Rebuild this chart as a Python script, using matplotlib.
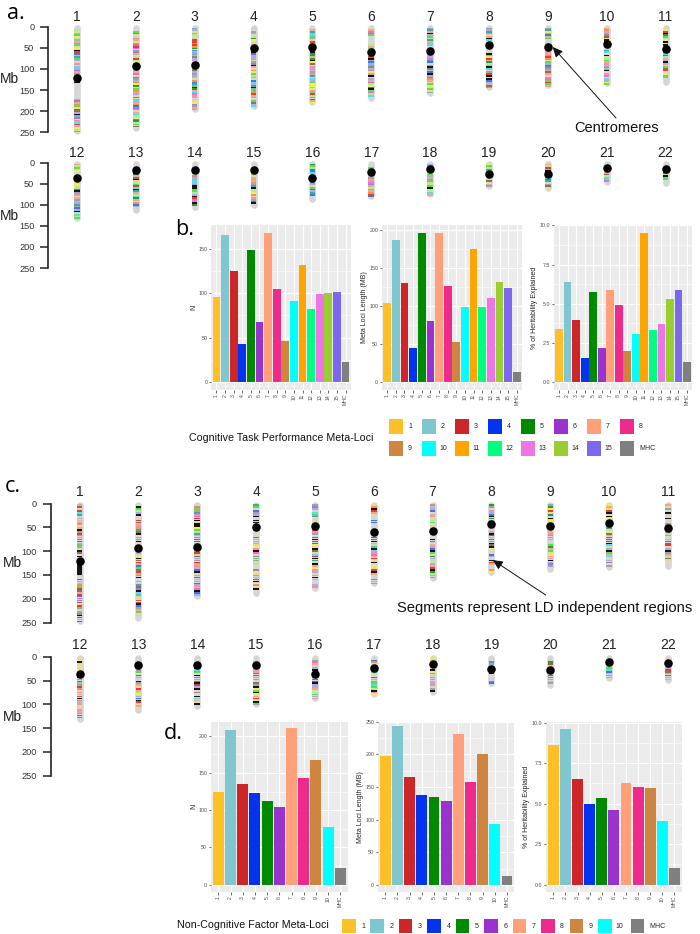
from matplotlib import pyplot as plt
from matplotlib import rcParams
from matplotlib.patches import Rectangle

rcParams['font.family'] = ['Liberation Sans', 'DejaVu Sans']

W, H = 700, 934

# chromosomes (Mb)
chrom_len = [249, 243, 198, 191, 181, 171, 159, 146, 141, 136, 135,
             134, 115, 107, 103, 90, 81, 78, 59, 63, 48, 51]
centromere = [121, 93, 91, 50, 47, 59, 58, 44, 48, 40, 52,
              36, 17, 17, 18, 36, 23, 16, 26, 27, 12, 14]
mb_ticks = [0, 50, 100, 150, 200, 250]

# one letter per 4 Mb of chromosome, '.' = no segment
band_colors = {
    'k': '#151515', 'r': '#ea3a32', 'o': '#fb9440', 'y': '#f2ee50', 'g': '#58de50',
    'G': '#2c9a2c', 'b': '#3f74ee', 'c': '#45e4ee', 'm': '#f868d8', 'p': '#a878d8',
    's': '#f2a88e', 't': '#45a4aa', 'w': '#e6d8a6', 'l': '#aeee90', 'v': '#aaaae6',
    'h': '#f48eb2', 'n': '#8e7058', 'd': '#98a4b0', 'a': '#b4dac4',
}
bands_a = [
    ".lwcgylvsmgwykrbstgvwhlcvpsdvlpgk.........vpsogyrnvkdpwhcrhylmrnsw",
    "..gtwlhsyoprmdpswlrlycwtdvsmwtdvoyGlgosvwthcsobpdwsclwtGlgn",
    "dvwhlwlrrmroGtvdcthvwsoltnvdvswobtgkGscmhvlwypdsvwpnk",
    "a.dvwlGyw.sl.bkbcvhldpkswoyglhwbcvtkdgorshlgnvc",
    ".stvcgdwrhsta.kGrsGkynwhvsdhtlcvgyysyhgrlmrsy",
    "wsmpg....wlsgcoygrkdbvmthdyhkwvsplyrkgmlcw",
    "dtskvgltscc.wp..vvmtb.oktsbkvtoswgylgwd",
    "dvtgwskcwkgsw..kgyrsGlckcwdrkwkbvsndgg",
    "dtyhbsg..cccvshsdrowgvbtdhnswvmgrgsmy",
    "sohvtrykkgsw.tc.kwlgshsdvkwhmwcvyg..",
    "wyrkGglyk.kmhrtcblsvkhlgnrwygo.",
    "slgly.....wyywlnkdhwsdcvtdbvkwclgvh",
    "....rkGsnkwlgrcktslcGsyobv",
    "....pgwdhvccdkkgglvkrmgkG",
    ".....vgwshsodtkwlyowhdnk",
    "Gglbbcv.kywdvwgnvtb",
    "..g..ktsdshmpslgsorbb",
    "vmpwglgvsdglwgkylcsw",
    "ygatgsk.lwnwsd",
    "slrgk.dvcbtwdnw",
    "...ywsnlchm.",
    "....vblkgd..",
]
bands_c = [
    "snwrctwvshowskdrmvtbvdgwkn.k.kkkkkkkklyrcsogrnsrbmpnwrdwgpkrsr",
    "wkglvk..rnshotnkyhmkyw.sbv.yknrsbgnrsmkyv.tnpkcdlwnrkbdsgwl",
    "wdogthmrkwkkygltsdnbc.kygrlnvdrshsbkwhrshbvsmkbv",
    "tgwbdvk.kk..yG.w.nshvwyhkmwpgdwl..pywghrkyowk",
    "dpv.cgt.wyoswrhdynkbrywknwcrktwksyhvwvkswlvh",
    "wokrs.w.bb..wyk.yrnksldkchmsrwk.ywrkswltcd",
    "dsvb.shllg.w.nkgwykn.shbkgwGvlwvsrkGlvm",
    "GdwhvbkGc..sw.hkrsbdknkyw.bv.krs.woyrg",
    "dGyrwG.ky.y..wshmmhwlgGsgwyshkvpd",
    "ysyrk.kyw.kctwynsnGrkcwvkgscwvpwd",
    "swd.kw.k.wdcyyhlgwsbGrwvkdslnw",
    "wykwywy..kkmbvgrowhsnkdshwwhsdnt",
    "....tkdgyrcwkdswrslyvbkrwsw",
    "....mkcgwkpvnkrvkwpwkcswk",
    "....kdhsnbcgwndkygkysrlkdn",
    "wdmswvk..kobrkvvswlgvs",
    ".bo..tkg.wGsdgcglkhy",
    "yw..hwkydlgoshvwdk",
    "..tdw.mtk..ltbswy",
    ".aGr.pk.Gnthsd.bs",
    "....lgcbsdh",
    ".....vrnobvs",
]

# цвета мета-локусов
locus_colors = ['#FFBF27', '#7FC6CE', '#CE2529', '#0433F0', '#008A00', '#9A32CD',
                '#FFA07A', '#EE2A8C', '#CD853F', '#00FFFF', '#FFA500', '#00FF7F',
                '#EE75E6', '#9ACD32', '#7B68EE', '#7F7F7F']

labels_b = [str(i) for i in range(1, 16)] + ['MHC']
n_b = [96, 165, 125, 43, 148, 68, 168, 105, 46, 91, 132, 82, 99, 100, 101, 23]
len_b = [104, 187, 130, 45, 197, 81, 197, 127, 53, 99, 176, 99, 111, 132, 124, 13]
her_b = [3.4, 6.4, 3.95, 1.55, 5.75, 2.2, 5.9, 4.9, 2.0, 3.05, 9.55, 3.35, 3.7, 5.3, 5.9, 1.3]

labels_d = [str(i) for i in range(1, 11)] + ['MHC']
colors_d = locus_colors[:10] + locus_colors[-1:]
n_d = [125, 208, 135, 123, 113, 105, 210, 143, 167, 77, 23]
len_d = [197, 243, 165, 138, 135, 129, 231, 158, 201, 94, 13]
her_d = [8.6, 9.6, 6.5, 5.0, 5.35, 4.6, 6.3, 6.0, 5.95, 3.9, 1.05]

fig = plt.figure(figsize=(W / 100, H / 100), dpi=100)


def px_axes(left, top, right, bottom):
    return fig.add_axes([left / W, 1 - bottom / H, (right - left) / W, (bottom - top) / H])


def ideogram_row(chroms, bands, band_h, x_first, x_axis, y0, y250, label_y, mb_y):
    # pad: row axes run a bit past the 0-250 Mb span
    ax = px_axes(x_axis, y0 - 8, W, y250 + 8)
    ax.patch.set_visible(False)
    scale = (y250 - y0) / 250
    step = 58.85
    ax.set_xlim((x_axis - x_first) / step, (W - x_first) / step)
    ax.set_ylim(250 + 8 / scale, -8 / scale)
    for pos, c in enumerate(chroms):
        ax.plot([pos, pos], [3, chrom_len[c] - 3], color='#d6d6d6', lw=4.8,
                solid_capstyle='round', zorder=1)
        for j, code in enumerate(bands[c][:chrom_len[c] // 4]):
            if code != '.':
                ax.bar(pos, band_h, bottom=j * 4 + 2, width=0.095, color=band_colors[code],
                       linewidth=0, zorder=2)
        ax.scatter(pos, centromere[c], s=38, c='black', linewidths=0, zorder=3, clip_on=False)
        ax.text(pos, (label_y - y0) / scale, str(c + 1), fontsize=10, color='#222222',
                ha='center', va='center', clip_on=False)
    for s in ['top', 'right', 'bottom']:
        ax.spines[s].set_visible(False)
    ax.spines['left'].set_bounds(0, 250)
    ax.spines['left'].set_linewidth(1.2)
    ax.spines['left'].set_color('#222222')
    ax.set_xticks([])
    ax.set_yticks(mb_ticks)
    ax.tick_params(axis='y', length=5.8, width=1.1, color='#222222', labelsize=6.6,
                   labelcolor='#333333', pad=4)
    ax.text((x_axis - 48 - x_first) / step, (mb_y - y0) / scale, 'Mb', fontsize=10,
            color='#222222', ha='left', va='center', clip_on=False)


def bar_panel(box, y_range, labels, colors, values, yticks, ylabel, yfmt='{:g}'):
    ax = px_axes(*box)
    ax.set_facecolor('#EBEBEB')
    xs = list(range(len(labels)))
    ax.bar(xs, values, width=0.9, color=colors, linewidth=0, zorder=3)
    ax.set_xlim(-0.6, len(labels) - 0.4)
    ax.set_ylim(*y_range)
    ax.set_xticks(xs)
    ax.set_xticklabels(labels, rotation=90, fontsize=3.7, color='#4D4D4D')
    ax.set_yticks(yticks)
    ax.set_yticklabels([yfmt.format(v) for v in yticks], fontsize=3.8, color='#4D4D4D')
    minor = [(a + b) / 2 for a, b in zip(yticks[:-1], yticks[1:])]
    ax.set_yticks(minor, minor=True)
    ax.tick_params(axis='both', which='major', length=1.8, width=0.5, color='#333333', pad=1)
    ax.tick_params(axis='y', which='minor', length=0)
    ax.grid(True, which='major', color='white', lw=0.8, zorder=1)
    ax.grid(True, which='minor', axis='y', color='white', lw=0.4, zorder=1)
    ax.set_axisbelow(True)
    for s in ax.spines.values():
        s.set_visible(False)
    ax.set_ylabel(ylabel, fontsize=5, color='#222222', labelpad=0.8)
    return ax


# panel a
ideogram_row(range(0, 11), bands_a, 3.9, 77, 48, 26.7, 132.3, 16.7, 79)
ideogram_row(range(11, 22), bands_a, 3.9, 77, 48, 162.7, 268, 152.7, 215.7)
# panel c
ideogram_row(range(0, 11), bands_c, 3.3, 79.5, 50.5, 503.5, 622.5, 492, 563)
ideogram_row(range(11, 22), bands_c, 3.3, 79.5, 50.5, 656.7, 775.7, 645, 716.7)

# panel b
bar_panel((211.3, 225, 350.7, 390), (-9, 176.6), labels_b, locus_colors, n_b,
          [0, 50, 100, 150], 'N')
bar_panel((382, 225, 522, 390), (-10.5, 207), labels_b, locus_colors, len_b,
          [0, 50, 100, 150, 200], 'Meta Loci Length (MB)')
bar_panel((554, 225, 692, 390), (-0.51, 10.03), labels_b, locus_colors, her_b,
          [0, 2.5, 5, 7.5, 10], '% of Heritability Explained', '{:.1f}')
# panel d
bar_panel((211, 721.7, 347.7, 892), (-9.8, 219), labels_d, colors_d, n_d,
          [0, 50, 100, 150, 200], 'N')
bar_panel((378, 721.7, 514.3, 892), (-11, 250.2), labels_d, colors_d, len_d,
          [0, 50, 100, 150, 200, 250], 'Meta Loci Length (MB)')
bar_panel((546, 721.7, 681.7, 892), (-0.45, 10.05), labels_d, colors_d, her_d,
          [0, 2.5, 5, 7.5, 10], '% of Heritability Explained', '{:.1f}')

# верхний слой в пикселях: подписи, стрелки, легенды
top = fig.add_axes([0, 0, 1, 1])
top.set_xlim(0, W)
top.set_ylim(H, 0)
top.axis('off')
top.patch.set_visible(False)

for letter, x, y in [('a.', 7, 19), ('b.', 175, 235), ('c.', 5, 492), ('d.', 164, 739)]:
    top.text(x, y, letter, fontsize=15.5, family=['Open Sans', 'DejaVu Sans'], color='black',
             ha='left', va='baseline')

top.text(574, 128, 'Centromeres', fontsize=10.5, ha='left', va='center', color='#111111')
top.text(397, 608, 'Segments represent LD independent regions', fontsize=10.6, ha='left',
         va='center', color='#111111')
arrow = dict(arrowstyle='-|>,head_width=0.28,head_length=0.6', color='#111111', lw=0.7,
             shrinkA=0, shrinkB=0)
top.annotate('', xy=(552.7, 47), xytext=(616, 118), arrowprops=arrow)
top.annotate('', xy=(492.7, 560), xytext=(545.7, 595), arrowprops=arrow)

top.text(189, 437.7, 'Cognitive Task Performance Meta-Loci', fontsize=7.7, ha='left',
         va='center', color='#111111')
top.text(177, 925, 'Non-Cognitive Factor Meta-Loci', fontsize=7.65, ha='left',
         va='center', color='#111111')

# легенда b: два ряда по 8
for i, (lab, col) in enumerate(zip(labels_b, locus_colors)):
    x = 389 + (i % 8) * 33
    y = 419 + (i // 8) * 21.8
    top.add_patch(Rectangle((x, y), 14, 15, facecolor=col, edgecolor='none'))
    if lab == 'MHC':
        top.text(x + 19, y + 7.5, lab, fontsize=5, color='#222222', ha='left', va='center')
    else:
        top.text(x + 21, y + 7.5, lab, fontsize=5, color='#222222', ha='center', va='center')

# легенда d: один ряд
for i, (lab, col) in enumerate(zip(labels_d, colors_d)):
    x = 342 + i * 28.45
    if lab == 'MHC':
        x += 4
    top.add_patch(Rectangle((x, 919), 13.5, 14.3, facecolor=col, edgecolor='none'))
    if lab == 'MHC':
        top.text(x + 19, 926, lab, fontsize=5, color='#222222', ha='left', va='center')
    else:
        top.text(x + 21, 926, lab, fontsize=5, color='#222222', ha='center', va='center')

fig.savefig('out.png', dpi=100)
